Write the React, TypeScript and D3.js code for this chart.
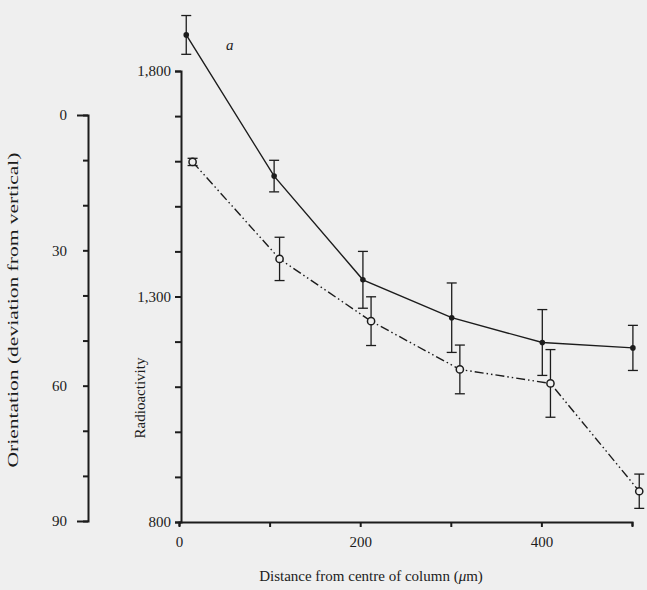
import React, { useEffect, useRef } from 'react';
import * as d3 from 'd3';

// filled dots: radioactivity (right axis), open dots: orientation (left axis)
const radDistance = [8, 105, 203, 301, 401, 501];
const radValues = [1880, 1567, 1337, 1253, 1198, 1186];
const radErr = [43, 35, 63, 77, 73, 50];

const oriDistance = [15, 111, 212, 310, 410, 508];
const oriValues = [10.4, 31.9, 45.7, 56.4, 59.5, 83.4];
const oriErr = [0.8, 4.8, 5.4, 5.4, 7.5, 3.8];

const xTicks = [0, 100, 200, 300, 400, 500];
const xLabels = [0, 200, 400];
const radTicks = [800, 900, 1000, 1100, 1200, 1300, 1400, 1500, 1600, 1700, 1800];
const radLabels = [800, 1300, 1800];
const oriTicks = [0, 10, 20, 30, 40, 50, 60, 70, 80, 90];
const oriLabels = [0, 30, 60, 90];

const width = 647;
const height = 590;
const ink = '#1c1c1c';
const paper = '#efefef';
const font = '"Liberation Serif", "DejaVu Serif", serif';

export default function App() {
    const ref = useRef<SVGSVGElement>(null);

    useEffect(() => {
        const svg = d3.select(ref.current);
        svg.selectAll('*').remove();

        svg.append('rect').attr('width', width).attr('height', height).attr('fill', paper);

        const x = d3.scaleLinear().domain([0, 500]).range([179, 632]);
        const yR = d3.scaleLinear().domain([800, 1800]).range([522, 71]);
        const yL = d3.scaleLinear().domain([0, 90]).range([115, 521]);

        // axes
        const styleAxis = (g: any) => {
            g.selectAll('path, line').attr('stroke', ink).attr('stroke-width', 2);
            g.selectAll('text').attr('fill', ink).attr('font-family', font).attr('font-size', 15);
        };

        svg.append('g')
            .attr('transform', 'translate(0,522)')
            .call(d3.axisBottom(x).tickValues(xTicks).tickSizeInner(5).tickSizeOuter(4).tickPadding(9)
                .tickFormat((d: any) => (xLabels.includes(d) ? String(d) : '')))
            .call(styleAxis);

        svg.append('g')
            .attr('transform', 'translate(181,0)')
            .call(d3.axisLeft(yR).tickValues(radTicks).tickSizeInner(6).tickSizeOuter(6).tickPadding(4)
                .tickFormat((d: any) => (radLabels.includes(d) ? d3.format(',')(d) : '')))
            .call(styleAxis);

        svg.append('g')
            .attr('transform', 'translate(88,0)')
            .call(d3.axisLeft(yL).tickValues(oriTicks).tickSizeInner(5).tickSizeOuter(11).tickPadding(16)
                .tickFormat((d: any) => (oriLabels.includes(d) ? String(d) : '')))
            .call(styleAxis);

        // axis titles
        svg.append('text')
            .attr('x', 371).attr('y', 581)
            .attr('text-anchor', 'middle')
            .attr('font-family', font).attr('font-size', 15).attr('fill', ink)
            .html('Distance from centre of column (<tspan font-style="italic">μ</tspan>m)');

        svg.append('text')
            .attr('transform', 'translate(145,398) rotate(-90)')
            .attr('text-anchor', 'middle')
            .attr('font-family', font).attr('font-size', 15).attr('fill', ink)
            .text('Radioactivity');

        svg.append('text')
            .attr('transform', 'translate(18,310) rotate(-90)')
            .attr('text-anchor', 'middle')
            .attr('font-family', font).attr('font-size', 15).attr('fill', ink)
            .attr('textLength', 315).attr('lengthAdjust', 'spacingAndGlyphs')
            .text('Orientation (deviation from vertical)');

        svg.append('text')
            .attr('x', 226).attr('y', 50)
            .attr('font-family', font).attr('font-size', 15).attr('font-style', 'italic').attr('fill', ink)
            .text('a');

        const radPts = radDistance.map((d, i) => ({ x: x(d), y: yR(radValues[i]), lo: yR(radValues[i] - radErr[i]), hi: yR(radValues[i] + radErr[i]) }));
        const oriPts = oriDistance.map((d, i) => ({ x: x(d), y: yL(oriValues[i]), lo: yL(oriValues[i] + oriErr[i]), hi: yL(oriValues[i] - oriErr[i]) }));

        const line = d3.line<any>().x(d => d.x).y(d => d.y);

        svg.append('path').attr('d', line(radPts)).attr('fill', 'none')
            .attr('stroke', ink).attr('stroke-width', 1.4);
        svg.append('path').attr('d', line(oriPts)).attr('fill', 'none')
            .attr('stroke', ink).attr('stroke-width', 1.4)
            .attr('stroke-dasharray', '9,3,1.5,3,1.5,3');

        // error bars
        const drawErr = (pts: any[]) => {
            const g = svg.append('g').attr('stroke', ink).attr('stroke-width', 1.3);
            pts.forEach(p => {
                g.append('line').attr('x1', p.x).attr('x2', p.x).attr('y1', p.hi).attr('y2', p.lo);
                g.append('line').attr('x1', p.x - 5).attr('x2', p.x + 5).attr('y1', p.hi).attr('y2', p.hi);
                g.append('line').attr('x1', p.x - 5).attr('x2', p.x + 5).attr('y1', p.lo).attr('y2', p.lo);
            });
        };
        drawErr(radPts);
        drawErr(oriPts);

        svg.append('g').selectAll('circle').data(radPts).join('circle')
            .attr('cx', d => d.x).attr('cy', d => d.y).attr('r', 2.8).attr('fill', ink);

        svg.append('g').selectAll('circle').data(oriPts).join('circle')
            .attr('cx', d => d.x).attr('cy', d => d.y).attr('r', 3.6)
            .attr('fill', paper).attr('stroke', ink).attr('stroke-width', 1.5);
    }, []);

    return (
        <svg ref={ref} width={width} height={height} style={{ position: 'absolute', left: 0, top: 0 }} />
    );
}
